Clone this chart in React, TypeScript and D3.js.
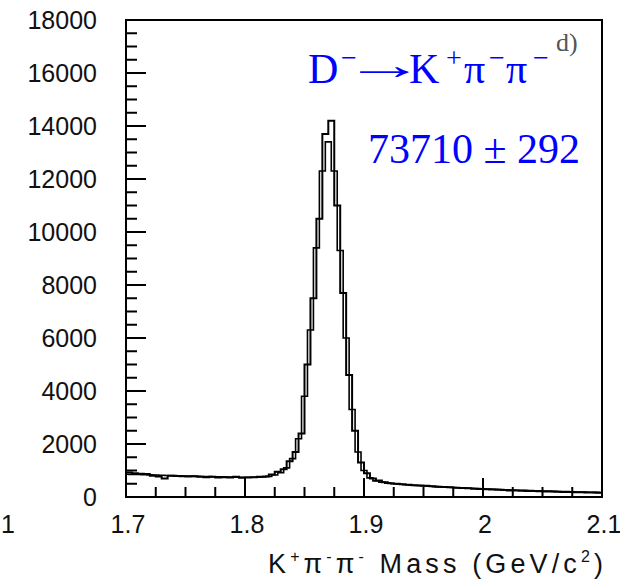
import React from "react";
import * as d3 from "d3";

// Data: bin lower edges from 1.700 in 5 MeV steps (80 bins)
const dataStart = 1.7;
const binWidth = 0.005;
const dataCounts = [
  920, 900, 880, 870, 800, 770, 700, 800, 790, 780,
  770, 780, 760, 750, 760, 740, 750, 740, 760, 730,
  740, 750, 760, 770, 850, 950, 1050, 1350, 1700, 2400,
  5000, 7500, 10500, 13700, 14200, 11000, 7700, 4600, 2500, 1300,
  900, 700, 620, 560, 520, 500, 480, 460, 440, 430,
  420, 410, 390, 380, 370, 350, 340, 330, 310, 300,
  290, 280, 270, 260, 250, 250, 240, 230, 230, 220,
  210, 210, 200, 190, 190, 180, 180, 170, 170, 160,
];

// Fit: bins centred on 1.700, 1.705, ... 2.100 (81 bins)
const fitStart = 1.6975;
const fitCounts = [
  860, 855, 850, 842, 835, 828, 820, 812, 805, 798,
  792, 786, 780, 775, 770, 765, 760, 755, 750, 747,
  744, 743, 745, 755, 780, 830, 920, 1100, 1450, 2200,
  3800, 6300, 9400, 12300, 13400, 12300, 9300, 6000, 3300, 1700,
  1000, 720, 610, 560, 525, 500, 480, 462, 446, 432,
  418, 405, 393, 381, 370, 359, 348, 338, 328, 318,
  308, 299, 290, 281, 273, 265, 257, 249, 242, 235,
  228, 221, 214, 208, 202, 196, 190, 185, 180, 175, 170,
];

const xTicksMajor = [1.7, 1.8, 1.9, 2.0, 2.1];
const xTickLabels = ["1.7", "1.8", "1.9", "2", "2.1"];
const yTicksMajor = [0, 2000, 4000, 6000, 8000, 10000, 12000, 14000, 16000, 18000];

export default function App() {
  const left = 126, right = 602, top = 20, bottom = 497;
  const x = d3.scaleLinear().domain([1.7, 2.1]).range([left, right]);
  const y = d3.scaleLinear().domain([0, 18000]).range([bottom, top]);

  const stepPath = (vals: number[], start: number) => {
    const pts: [number, number][] = vals.map((v, i) => [start + i * binWidth, v]);
    pts.push([start + vals.length * binWidth, vals[vals.length - 1]]);
    return d3
      .line<[number, number]>()
      .x((d) => x(d[0]))
      .y((d) => y(d[1]))
      .curve(d3.curveStepAfter)(pts) as string;
  };

  const isMinor = (v: number) => {
    const k = (v - 1.7) / 0.1;
    return Math.abs(k - Math.round(k)) > 1e-6;
  };
  const xMinor = d3.range(0, 17).map((i) => 1.7 + i * 0.025).filter(isMinor);
  const yMinor = d3.range(0, 37).map((i) => i * 500).filter((v) => v % 2000 !== 0);

  const axisFont = "'Liberation Sans', Arial, Helvetica, sans-serif";
  const serif = "'Liberation Serif', 'Times New Roman', serif";

  return (
    <svg width={620} height={581} style={{ position: "absolute", left: 0, top: 0, background: "#fff" }}>
      <defs>
        <clipPath id="plotClip">
          <rect x={left} y={top} width={right - left} height={bottom - top} />
        </clipPath>
      </defs>
      <rect x={0} y={0} width={620} height={581} fill="#fff" />
      {/* histogram data and fit */}
      <g clipPath="url(#plotClip)">
        <path d={stepPath(fitCounts, fitStart)} fill="none" stroke="#000" strokeWidth={1.6} />
        <path d={stepPath(dataCounts, dataStart)} fill="none" stroke="#000" strokeWidth={2} />
      </g>

      {/* frame */}
      <rect x={left} y={top} width={right - left} height={bottom - top} fill="none" stroke="#000" strokeWidth={2} />

      {/* y ticks */}
      {yTicksMajor.map((v) => (
        <line key={"ym" + v} x1={left} x2={left + 20} y1={y(v)} y2={y(v)} stroke="#000" strokeWidth={2} />
      ))}
      {yMinor.map((v) => (
        <line key={"yn" + v} x1={left} x2={left + 11} y1={y(v)} y2={y(v)} stroke="#000" strokeWidth={2} />
      ))}
      {yTicksMajor.map((v) => (
        <text key={"yl" + v} x={97} y={y(v) + 9} textAnchor="end" fontFamily={axisFont} fontSize={25} fill="#111">
          {String(v)}
        </text>
      ))}

      {/* x ticks */}
      {xTicksMajor.map((v) => (
        <line key={"xm" + v} x1={x(v)} x2={x(v)} y1={bottom} y2={bottom - 19} stroke="#000" strokeWidth={2} />
      ))}
      {xMinor.map((v) => (
        <line key={"xn" + v} x1={x(v)} x2={x(v)} y1={bottom} y2={bottom - 10} stroke="#000" strokeWidth={2} />
      ))}
      {xTicksMajor.map((v, i) => (
        <text key={"xl" + v} x={x(v) + 2} y={533} textAnchor="middle" fontFamily={axisFont} fontSize={25} fill="#111">
          {xTickLabels[i]}
        </text>
      ))}
      <text x={8} y={533} textAnchor="middle" fontFamily={axisFont} fontSize={25} fill="#111">1</text>

      {/* axis title */}
      <text x={268} y={573} fontFamily={axisFont} fontSize={27} fill="#111" textLength={335} lengthAdjust="spacing">
        K<tspan dy={-11} fontSize={16}>+</tspan>
        <tspan dy={11}>π</tspan>
        <tspan dy={-11} fontSize={16}>-</tspan>
        <tspan dy={11}>π</tspan>
        <tspan dy={-11} fontSize={16}>-</tspan>
        <tspan dy={11}>{"  Mass  (GeV/c"}</tspan>
        <tspan dy={-11} fontSize={16}>2</tspan>
        <tspan dy={11}>)</tspan>
      </text>

      {/* annotations */}
      <text x={556} y={51} fontFamily={serif} fontSize={26} fill="#555">d)</text>
      <text y={83} fontFamily={serif} fontSize={42} fill="#0000ff">
        <tspan x={308}>D</tspan>
        <tspan x={341} dy={-16} fontSize={28}>−</tspan>
        <tspan x={409} dy={16}>K</tspan>
        <tspan x={446} dy={-16} fontSize={28}>+</tspan>
        <tspan x={464} dy={16}>π</tspan>
        <tspan x={489} dy={-16} fontSize={28}>−</tspan>
        <tspan x={506} dy={16}>π</tspan>
        <tspan x={533} dy={-16} fontSize={28}>−</tspan>
      </text>
      <text transform="translate(343,79) scale(1.95,1)" fontFamily={serif} fontSize={42} fill="#0000ff">→</text>
      <text x={368} y={163} fontFamily={serif} fontSize={42} fill="#0000ff">73710 ± 292</text>
    </svg>
  );
}
